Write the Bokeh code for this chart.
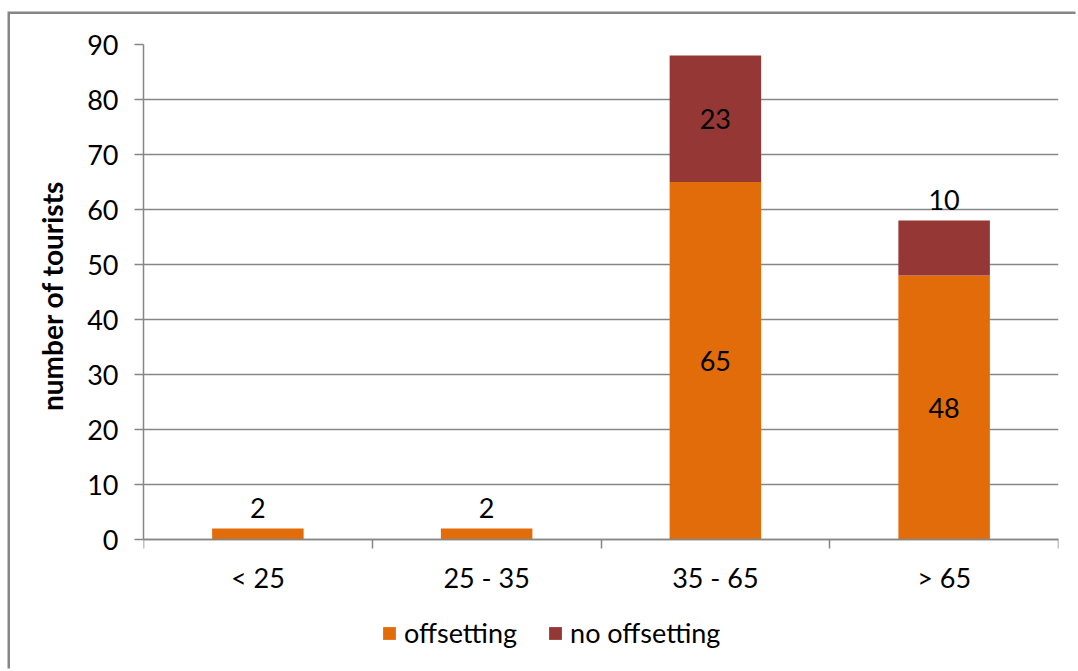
from bokeh.plotting import figure
from bokeh.models import ColumnDataSource, FixedTicker, LabelSet, Legend, Title
from bokeh.core.properties import value
from bokeh.embed import file_html
from bokeh.resources import INLINE

# Age groups and number of tourists per group
categories = ["< 25", "25 - 35", "35 - 65", "> 65"]
offsetting = [2, 2, 65, 48]
no_offsetting = [0, 0, 23, 10]
series_names = ["offsetting", "no offsetting"]
series_colors = ["#E36C0A", "#953735"]
y_ticks = [0, 10, 20, 30, 40, 50, 60, 70, 80, 90]
y_title = "number of tourists"

FONT = "Lato"
GREY = "#868686"
FS = "27px"

x = [i + 0.5 for i in range(len(categories))]
source = ColumnDataSource(dict(x=x, offsetting=offsetting, no_offsetting=no_offsetting))

# the frame reaches the bottom edge so the legend can sit under the axis
p = figure(width=1068, height=657, output_backend="svg", toolbar_location=None,
           x_range=(0, len(categories)), y_range=(-24, 90),
           min_border_left=133, min_border_right=20, min_border_top=30, min_border_bottom=0)
p.outline_line_color = None
p.background_fill_color = "white"
p.border_fill_color = "white"
# chart border along the left and top edges
p.styles = {"margin-left": "10px", "margin-top": "14px",
            "box-shadow": "-2.5px -2.5px 0 0 " + GREY}

renderers = p.vbar_stack(["offsetting", "no_offsetting"], x="x", width=0.4,
                         fill_color=series_colors, line_color=None, source=source)

# value labels: inside the segment when it is tall enough, otherwise above the stack
lab_x, lab_y, lab_t = [], [], []
above_x, above_y, above_t = [], [], []
for xi, a, b in zip(x, offsetting, no_offsetting):
    for base, v in ((0, a), (a, b)):
        if v <= 0:
            continue
        if v >= 15:
            lab_x.append(xi); lab_y.append(base + v / 2); lab_t.append(str(v))
        else:
            above_x.append(xi); above_y.append(a + b); above_t.append(str(v))

inside = ColumnDataSource(dict(x=lab_x, y=lab_y, t=lab_t))
outside = ColumnDataSource(dict(x=above_x, y=above_y, t=above_t))
p.add_layout(LabelSet(x="x", y="y", text="t", source=inside, text_align="center",
                      text_baseline="middle", text_font=value(FONT),
                      text_font_size=value(FS), text_color="black"))
p.add_layout(LabelSet(x="x", y="y", text="t", source=outside, text_align="center",
                      text_baseline="bottom", y_offset=11, text_font=value(FONT),
                      text_font_size=value(FS), text_color="black"))

# y axis
p.yaxis.ticker = FixedTicker(ticks=y_ticks)
p.yaxis.bounds = (0, 90)
p.yaxis.major_label_text_font = FONT
p.yaxis.major_label_text_font_size = FS
p.yaxis.major_label_text_color = "black"
p.yaxis.major_label_standoff = 16
p.yaxis.axis_line_color = GREY
p.yaxis.axis_line_width = 1.5
p.yaxis.major_tick_line_color = GREY
p.yaxis.major_tick_line_width = 1.5
p.yaxis.major_tick_in = 0
p.yaxis.major_tick_out = 9
p.yaxis.minor_tick_line_color = None

# y axis title, aligned with the 0-90 span of the axis
p.add_layout(Title(text=y_title, align="right", offset=136, standoff=31,
                   text_font=FONT, text_font_size="28px", text_font_style="bold",
                   text_color="black"), "left")

# x axis at zero: labels centred on groups, ticks on group boundaries
p.xaxis.fixed_location = 0
p.xaxis.ticker = FixedTicker(ticks=x, minor_ticks=list(range(len(categories) + 1)))
p.xaxis.major_label_overrides = {xi: c for xi, c in zip(x, categories)}
p.xaxis.major_label_text_font = FONT
p.xaxis.major_label_text_font_size = FS
p.xaxis.major_label_text_color = "black"
p.xaxis.major_label_standoff = 12
p.xaxis.axis_line_color = GREY
p.xaxis.axis_line_width = 1.5
p.xaxis.major_tick_line_color = None
p.xaxis.minor_tick_line_color = GREY
p.xaxis.minor_tick_line_width = 1.5
p.xaxis.minor_tick_in = 0
p.xaxis.minor_tick_out = 9

p.xgrid.grid_line_color = None
p.ygrid.ticker = FixedTicker(ticks=y_ticks)
p.ygrid.grid_line_color = GREY
p.ygrid.grid_line_width = 1.5

# legend under the axis
lg = Legend(items=[(name, [r]) for name, r in zip(series_names, renderers)],
            orientation="horizontal", location=(238, 22), padding=0, margin=0,
            spacing=30, glyph_width=16, glyph_height=16, label_standoff=7,
            label_text_font=FONT, label_text_font_size=FS, label_text_color="black",
            border_line_color=None, background_fill_alpha=0)
p.add_layout(lg)

open("out.html", "w").write(file_html(p, INLINE))
